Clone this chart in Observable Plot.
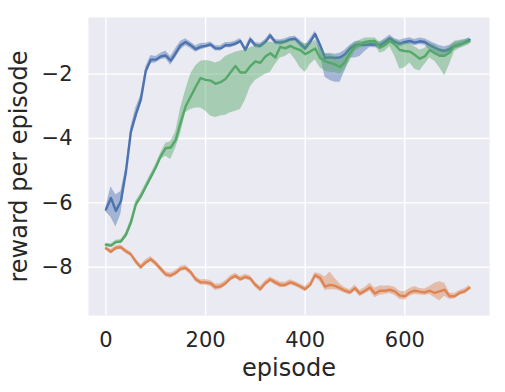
<!DOCTYPE html>
<html>
<head>
<meta charset="utf-8">
<script src="https://cdn.jsdelivr.net/npm/d3@7"></script>
<script src="https://cdn.jsdelivr.net/npm/@observablehq/plot@0.6"></script>
<style>
  html, body { margin: 0; padding: 0; background: white; }
</style>
</head>
<body>
<div id="chart"></div>
<script>
const episodes = [0,10,20,30,40,50,60,70,80,90,100,110,120,130,140,150,160,170,180,190,200,210,220,230,240,250,260,270,280,290,300,310,320,330,340,350,360,370,380,390,400,410,420,430,440,450,460,470,480,490,500,510,520,530,540,550,560,570,580,590,600,610,620,630,640,650,660,670,680,690,700,710,720,730];

const blueMean = [-6.21,-5.85,-6.25,-5.95,-5.05,-3.8,-3.25,-2.8,-1.9,-1.55,-1.55,-1.45,-1.42,-1.58,-1.35,-1.1,-1.0,-1.1,-1.22,-1.15,-1.12,-1.08,-1.2,-1.2,-1.1,-1.1,-1.05,-0.97,-1.25,-0.92,-1.1,-1.12,-1.0,-0.8,-1.0,-1.02,-0.98,-0.92,-0.9,-1.05,-1.2,-1.0,-0.75,-1.1,-1.5,-1.48,-1.5,-1.48,-1.38,-1.2,-1.1,-1.08,-1.1,-1.07,-1.08,-1.1,-1.0,-0.88,-1.0,-1.05,-1.0,-0.97,-1.02,-0.98,-1.0,-1.1,-1.18,-1.25,-1.28,-1.22,-1.12,-1.08,-1.02,-0.93];
const blueLo = [-6.28,-6.45,-6.75,-6.35,-5.2,-3.95,-3.45,-2.95,-2.0,-1.68,-1.65,-1.55,-1.52,-1.72,-1.5,-1.25,-1.12,-1.2,-1.32,-1.25,-1.2,-1.16,-1.28,-1.28,-1.18,-1.18,-1.13,-1.05,-1.33,-1.0,-1.18,-1.2,-1.08,-0.9,-1.08,-1.1,-1.06,-1.0,-0.98,-1.15,-1.3,-1.1,-0.85,-1.4,-2.1,-2.2,-2.25,-2.25,-1.9,-1.5,-1.5,-1.45,-1.3,-1.17,-1.18,-1.2,-1.1,-0.98,-1.1,-1.15,-1.1,-1.07,-1.12,-1.08,-1.1,-1.25,-1.4,-1.45,-1.45,-1.35,-1.22,-1.18,-1.1,-1.0];
const blueHi = [-6.14,-5.5,-5.75,-5.65,-4.9,-3.65,-3.05,-2.65,-1.78,-1.42,-1.45,-1.35,-1.28,-1.45,-1.2,-0.98,-0.9,-1.0,-1.12,-1.05,-1.04,-1.0,-1.12,-1.12,-1.02,-1.02,-0.97,-0.89,-1.17,-0.84,-1.02,-1.04,-0.92,-0.72,-0.92,-0.94,-0.9,-0.84,-0.82,-0.95,-1.1,-0.9,-0.67,-1.0,-1.38,-1.35,-1.38,-1.35,-1.25,-1.1,-1.0,-0.98,-1.0,-0.97,-0.98,-1.0,-0.9,-0.78,-0.9,-0.95,-0.9,-0.87,-0.92,-0.88,-0.9,-0.98,-1.05,-1.12,-1.15,-1.1,-1.02,-0.98,-0.94,-0.86];

const orangeMean = [-7.41,-7.52,-7.4,-7.38,-7.5,-7.6,-7.82,-8.0,-7.85,-7.75,-7.88,-8.05,-8.22,-8.26,-8.18,-8.05,-8.02,-8.15,-8.37,-8.47,-8.47,-8.5,-8.62,-8.6,-8.5,-8.35,-8.27,-8.37,-8.3,-8.35,-8.55,-8.68,-8.5,-8.38,-8.47,-8.55,-8.55,-8.47,-8.52,-8.6,-8.68,-8.55,-8.25,-8.33,-8.6,-8.55,-8.58,-8.65,-8.73,-8.78,-8.65,-8.82,-8.73,-8.63,-8.82,-8.73,-8.73,-8.7,-8.75,-8.88,-8.9,-8.78,-8.73,-8.76,-8.78,-8.73,-8.8,-8.75,-8.7,-8.9,-8.9,-8.8,-8.75,-8.64];
const orangeLo = [-7.47,-7.59,-7.47,-7.45,-7.57,-7.67,-7.9,-8.08,-7.93,-7.83,-7.96,-8.13,-8.3,-8.34,-8.26,-8.13,-8.1,-8.23,-8.45,-8.55,-8.56,-8.59,-8.72,-8.69,-8.58,-8.43,-8.35,-8.45,-8.38,-8.43,-8.63,-8.77,-8.58,-8.46,-8.56,-8.64,-8.63,-8.55,-8.6,-8.68,-8.76,-8.63,-8.33,-8.45,-8.72,-8.7,-8.7,-8.75,-8.82,-8.86,-8.75,-8.92,-8.83,-8.75,-8.95,-8.87,-8.85,-8.82,-8.88,-9.0,-9.02,-8.9,-8.85,-8.86,-8.88,-8.85,-8.95,-9.05,-8.9,-9.0,-8.98,-8.88,-8.83,-8.72];
const orangeHi = [-7.35,-7.45,-7.33,-7.31,-7.43,-7.53,-7.74,-7.92,-7.77,-7.67,-7.8,-7.97,-8.14,-8.18,-8.1,-7.97,-7.94,-8.07,-8.29,-8.39,-8.38,-8.41,-8.52,-8.51,-8.42,-8.27,-8.19,-8.29,-8.22,-8.27,-8.47,-8.59,-8.42,-8.3,-8.38,-8.46,-8.47,-8.39,-8.44,-8.52,-8.6,-8.47,-8.17,-8.2,-8.3,-8.15,-8.35,-8.52,-8.64,-8.7,-8.55,-8.72,-8.63,-8.5,-8.65,-8.58,-8.58,-8.58,-8.62,-8.75,-8.76,-8.66,-8.6,-8.66,-8.68,-8.6,-8.5,-8.45,-8.5,-8.8,-8.82,-8.72,-8.67,-8.56];

const greenMean = [-7.3,-7.33,-7.22,-7.2,-7.0,-6.62,-6.05,-5.8,-5.5,-5.2,-4.9,-4.55,-4.3,-4.28,-4.05,-3.5,-3.0,-2.7,-2.4,-2.12,-2.18,-2.2,-2.3,-2.25,-2.15,-1.95,-1.75,-1.95,-1.95,-1.75,-1.6,-1.65,-1.45,-1.35,-1.48,-1.15,-1.2,-1.12,-1.2,-1.25,-1.38,-1.3,-1.2,-1.5,-1.6,-1.65,-1.7,-1.78,-1.62,-1.35,-1.15,-1.08,-1.0,-0.98,-0.97,-1.18,-1.1,-0.97,-1.08,-1.25,-1.28,-1.3,-1.4,-1.52,-1.45,-1.25,-1.35,-1.43,-1.43,-1.33,-1.12,-1.08,-1.03,-0.98];
const greenLo = [-7.35,-7.38,-7.28,-7.26,-7.08,-6.72,-6.15,-5.9,-5.6,-5.3,-5.0,-4.65,-4.55,-4.65,-4.3,-3.85,-3.2,-3.1,-3.05,-3.05,-3.15,-3.3,-3.35,-3.3,-3.28,-3.2,-3.15,-3.1,-2.8,-2.4,-2.2,-2.1,-2.0,-1.95,-1.7,-1.5,-1.45,-1.35,-1.55,-1.8,-1.95,-1.7,-1.55,-1.8,-1.9,-1.95,-1.95,-2.0,-1.85,-1.6,-1.3,-1.2,-1.15,-1.1,-1.1,-1.35,-1.3,-1.15,-1.45,-1.85,-1.8,-1.65,-1.85,-1.9,-1.7,-1.5,-1.6,-1.8,-2.05,-1.7,-1.3,-1.2,-1.15,-1.08];
const greenHi = [-7.25,-7.28,-7.16,-7.14,-6.92,-6.52,-5.95,-5.7,-5.4,-5.1,-4.8,-4.45,-4.15,-4.1,-3.8,-3.05,-2.5,-2.0,-1.75,-1.6,-1.58,-1.6,-1.65,-1.6,-1.45,-1.38,-1.32,-1.28,-1.25,-1.18,-1.12,-1.08,-1.02,-1.0,-1.05,-0.95,-0.98,-0.95,-0.98,-1.0,-1.05,-1.05,-0.95,-1.2,-1.35,-1.4,-1.45,-1.55,-1.4,-1.15,-1.0,-0.95,-0.88,-0.88,-0.88,-1.0,-0.95,-0.85,-0.92,-1.0,-1.05,-1.05,-1.15,-1.25,-1.2,-1.05,-1.1,-1.2,-1.25,-1.15,-0.98,-0.95,-0.92,-0.9];

const xTicks = [0, 200, 400, 600];
const yTicks = [-8, -6, -4, -2];
const xLabel = "episode";
const yLabel = "reward per episode";

const series = [
  {name: "blue", color: "#4C72B0", mean: blueMean, lo: blueLo, hi: blueHi},
  {name: "orange", color: "#DD8452", mean: orangeMean, lo: orangeLo, hi: orangeHi},
  {name: "green", color: "#55A868", mean: greenMean, lo: greenLo, hi: greenHi}
];

const seriesMarks = [];
for (const s of series) {
  const rows = episodes.map((e, i) => ({ep: e, mean: s.mean[i], lo: s.lo[i], hi: s.hi[i]}));
  seriesMarks.push(Plot.areaY(rows, {x: "ep", y1: "lo", y2: "hi", fill: s.color, fillOpacity: 0.45}));
  seriesMarks.push(Plot.line(rows, {x: "ep", y: "mean", stroke: s.color, strokeWidth: 2.4, strokeLinejoin: "round"}));
}

const chart = Plot.plot({
  width: 505,
  height: 392,
  marginLeft: 88,
  marginRight: 16,
  marginTop: 17,
  marginBottom: 77,
  x: {domain: [-35, 770]},
  y: {domain: [-9.5, -0.24]},
  style: {fontFamily: "DejaVu Sans", background: "white", color: "#262626"},
  marks: [
    Plot.frame({fill: "#EAEAF2", stroke: null}),
    Plot.gridX(xTicks, {stroke: "white", strokeOpacity: 1, strokeWidth: 1.4}),
    Plot.gridY(yTicks, {stroke: "white", strokeOpacity: 1, strokeWidth: 1.4}),
    ...seriesMarks,
    Plot.axisX(xTicks, {tickSize: 0, tickPadding: 17, fontSize: 21, label: null, fill: "#262626"}),
    Plot.axisY(yTicks, {tickSize: 0, tickPadding: 16, fontSize: 21, label: null, fill: "#262626"}),
    Plot.text([xLabel], {frameAnchor: "bottom", dy: 53, fontSize: 24, lineAnchor: "middle", textAnchor: "middle", fill: "#262626"}),
    Plot.text([yLabel], {frameAnchor: "left", rotate: -90, dx: -69, fontSize: 24, lineAnchor: "middle", textAnchor: "middle", fill: "#262626"})
  ]
});
document.getElementById("chart").appendChild(chart);
</script>
</body>
</html>
